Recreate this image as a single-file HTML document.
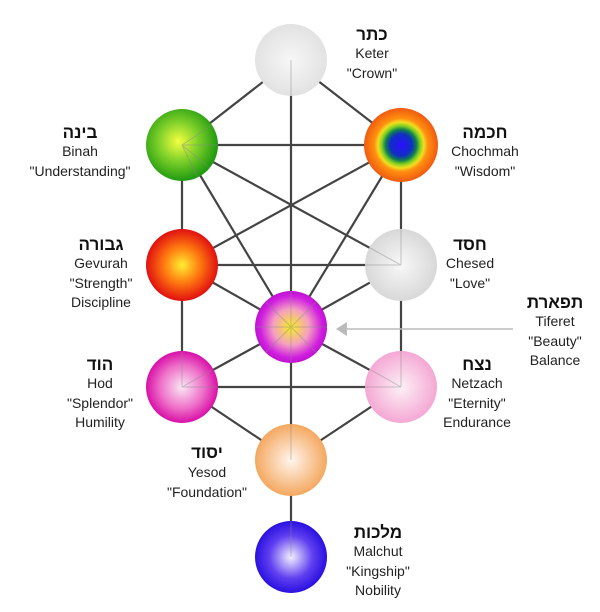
<!DOCTYPE html>
<html><head><meta charset="utf-8"><style>
body{margin:0;background:#fff}
svg text{font-family:"Liberation Sans",sans-serif;font-size:14px;fill:#222;text-anchor:middle}
svg text.h{font-size:17px;font-weight:bold;fill:#111}
</style></head><body>
<svg width="600" height="607" viewBox="0 0 600 607" xmlns="http://www.w3.org/2000/svg">
<defs>
<radialGradient id="keter" cx="50%" cy="50%" r="50%"><stop offset="0" stop-color="#f7f7f7"/><stop offset="1" stop-color="#e2e2e2"/></radialGradient>
<radialGradient id="binah" cx="45%" cy="45%" r="55%"><stop offset="0" stop-color="#f4ff40"/><stop offset="0.5" stop-color="#7fd02a"/><stop offset="1" stop-color="#1f9a10"/></radialGradient>
<radialGradient id="choch" cx="50%" cy="50%" r="50%"><stop offset="0" stop-color="#2a10ff"/><stop offset="0.3" stop-color="#1030c0"/><stop offset="0.42" stop-color="#108050"/><stop offset="0.52" stop-color="#80d020"/><stop offset="0.62" stop-color="#f0e020"/><stop offset="0.72" stop-color="#ff9010"/><stop offset="1" stop-color="#f05a10"/></radialGradient>
<radialGradient id="gev" cx="50%" cy="50%" r="50%"><stop offset="0" stop-color="#ffee30"/><stop offset="0.5" stop-color="#ff7a10"/><stop offset="1" stop-color="#e01010"/></radialGradient>
<radialGradient id="ches" cx="50%" cy="50%" r="50%"><stop offset="0" stop-color="#f8f8f8"/><stop offset="1" stop-color="#d8d8d8"/></radialGradient>
<radialGradient id="tif" cx="50%" cy="50%" r="50%"><stop offset="0" stop-color="#f8f020"/><stop offset="0.5" stop-color="#f4a0c0"/><stop offset="0.85" stop-color="#d020e0"/><stop offset="1" stop-color="#c010d0"/></radialGradient>
<radialGradient id="hod" cx="50%" cy="50%" r="50%"><stop offset="0" stop-color="#fbe8f4"/><stop offset="0.6" stop-color="#ee70c8"/><stop offset="1" stop-color="#d810a8"/></radialGradient>
<radialGradient id="netz" cx="50%" cy="50%" r="50%"><stop offset="0" stop-color="#fdf0f6"/><stop offset="1" stop-color="#f4a8d4"/></radialGradient>
<radialGradient id="yes" cx="50%" cy="50%" r="50%"><stop offset="0" stop-color="#fff6ee"/><stop offset="1" stop-color="#f4a860"/></radialGradient>
<radialGradient id="mal" cx="50%" cy="50%" r="50%"><stop offset="0" stop-color="#f4f0ff"/><stop offset="0.6" stop-color="#6040f0"/><stop offset="1" stop-color="#2a10e0"/></radialGradient>
</defs>
<g stroke="#444" stroke-width="2.2" fill="none">
<line x1="291" y1="60" x2="182" y2="145"/><line x1="291" y1="60" x2="401" y2="145"/>
<line x1="291" y1="60" x2="291" y2="557"/>
<line x1="182" y1="145" x2="401" y2="145"/>
<line x1="182" y1="145" x2="182" y2="387"/><line x1="401" y1="145" x2="401" y2="387"/>
<line x1="182" y1="145" x2="401" y2="265"/><line x1="401" y1="145" x2="182" y2="265"/>
<line x1="182" y1="145" x2="291" y2="327"/><line x1="401" y1="145" x2="291" y2="327"/>
<line x1="182" y1="265" x2="401" y2="265"/>
<line x1="182" y1="265" x2="291" y2="327"/><line x1="401" y1="265" x2="291" y2="327"/>
<line x1="182" y1="387" x2="291" y2="327"/><line x1="401" y1="387" x2="291" y2="327"/>
<line x1="182" y1="387" x2="401" y2="387"/>
<line x1="182" y1="387" x2="291" y2="460"/><line x1="401" y1="387" x2="291" y2="460"/>
</g>
<g stroke="none">
<circle cx="291" cy="60" r="36" fill="url(#keter)"/>
<circle cx="182" cy="145" r="36" fill="url(#binah)"/>
<circle cx="401" cy="145" r="37" fill="url(#choch)"/>
<circle cx="182" cy="265" r="36" fill="url(#gev)"/>
<circle cx="401" cy="265" r="36" fill="url(#ches)"/>
<circle cx="291" cy="327" r="36" fill="url(#tif)"/>
<circle cx="182" cy="387" r="36" fill="url(#hod)"/>
<circle cx="401" cy="387" r="36" fill="url(#netz)"/>
<circle cx="291" cy="460" r="36" fill="url(#yes)"/>
<circle cx="291" cy="557" r="36" fill="url(#mal)"/>
</g>
<g stroke="#888" stroke-width="1" opacity="0.45">
<line x1="182" y1="145" x2="212" y2="125"/><line x1="182" y1="145" x2="218" y2="145"/><line x1="182" y1="145" x2="210" y2="168"/><line x1="182" y1="145" x2="198" y2="178"/>
<line x1="401" y1="265" x2="370" y2="248"/><line x1="401" y1="265" x2="365" y2="265"/><line x1="401" y1="265" x2="401" y2="230"/>
<line x1="182" y1="387" x2="212" y2="370"/><line x1="182" y1="387" x2="218" y2="387"/><line x1="182" y1="387" x2="182" y2="351"/>
<line x1="401" y1="387" x2="371" y2="370"/><line x1="401" y1="387" x2="365" y2="387"/><line x1="401" y1="387" x2="401" y2="351"/>
<line x1="291" y1="327" x2="266" y2="302"/><line x1="291" y1="327" x2="316" y2="302"/><line x1="291" y1="327" x2="266" y2="352"/><line x1="291" y1="327" x2="316" y2="352"/><line x1="291" y1="327" x2="255" y2="327"/><line x1="291" y1="327" x2="327" y2="327"/><line x1="291" y1="291" x2="291" y2="363"/>
<line x1="291" y1="60" x2="291" y2="96"/><line x1="291" y1="424" x2="291" y2="460"/><line x1="291" y1="557" x2="291" y2="521"/>
</g>
<line x1="343" y1="329" x2="513" y2="329" stroke="#bbb" stroke-width="1.5"/>
<polygon points="336,329 347,322 347,336" fill="#bbb"/>
<text class="h" x="372" y="40">כתר</text><text x="372" y="58">Keter</text><text x="372" y="78">"Crown"</text>
<text class="h" x="80" y="138">בינה</text><text x="80" y="156">Binah</text><text x="80" y="176">"Understanding"</text>
<text class="h" x="485" y="138">חכמה</text><text x="485" y="156">Chochmah</text><text x="485" y="176">"Wisdom"</text>
<text class="h" x="101" y="250">גבורה</text><text x="101" y="268">Gevurah</text><text x="101" y="288">"Strength"</text><text x="101" y="307">Discipline</text>
<text class="h" x="470" y="250">חסד</text><text x="470" y="268">Chesed</text><text x="470" y="288">"Love"</text>
<text class="h" x="555" y="308">תפארת</text><text x="555" y="326">Tiferet</text><text x="555" y="346">"Beauty"</text><text x="555" y="365">Balance</text>
<text class="h" x="100" y="370">הוד</text><text x="100" y="388">Hod</text><text x="100" y="408">"Splendor"</text><text x="100" y="427">Humility</text>
<text class="h" x="477" y="370">נצח</text><text x="477" y="388">Netzach</text><text x="477" y="408">"Eternity"</text><text x="477" y="427">Endurance</text>
<text class="h" x="207" y="458">יסוד</text><text x="207" y="477">Yesod</text><text x="207" y="497">"Foundation"</text>
<text class="h" x="378" y="538">מלכות</text><text x="378" y="556">Malchut</text><text x="378" y="576">"Kingship"</text><text x="378" y="595">Nobility</text>
</svg>
</body></html>
